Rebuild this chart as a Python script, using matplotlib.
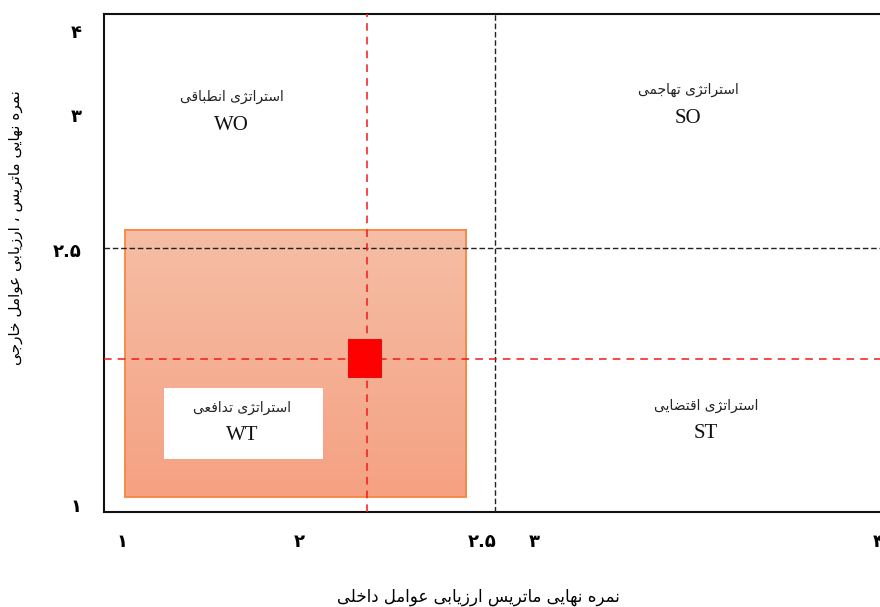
import matplotlib
matplotlib.use('Agg')
import matplotlib.pyplot as plt
from matplotlib.patches import Rectangle
from matplotlib.colors import LinearSegmentedColormap
import numpy as np

# letter -> (isolated, final, initial, medial); two-form letters do not join forward
FORMS = {
    'ا': (0xFE8D, 0xFE8E), 'ب': (0xFE8F, 0xFE90, 0xFE91, 0xFE92),
    'ت': (0xFE95, 0xFE96, 0xFE97, 0xFE98), 'ج': (0xFE9D, 0xFE9E, 0xFE9F, 0xFEA0),
    'ح': (0xFEA1, 0xFEA2, 0xFEA3, 0xFEA4), 'خ': (0xFEA5, 0xFEA6, 0xFEA7, 0xFEA8),
    'د': (0xFEA9, 0xFEAA), 'ذ': (0xFEAB, 0xFEAC), 'ر': (0xFEAD, 0xFEAE),
    'ز': (0xFEAF, 0xFEB0), 'ژ': (0xFB8A, 0xFB8B),
    'س': (0xFEB1, 0xFEB2, 0xFEB3, 0xFEB4), 'ش': (0xFEB5, 0xFEB6, 0xFEB7, 0xFEB8),
    'ص': (0xFEB9, 0xFEBA, 0xFEBB, 0xFEBC), 'ض': (0xFEBD, 0xFEBE, 0xFEBF, 0xFEC0),
    'ط': (0xFEC1, 0xFEC2, 0xFEC3, 0xFEC4), 'ظ': (0xFEC5, 0xFEC6, 0xFEC7, 0xFEC8),
    'ع': (0xFEC9, 0xFECA, 0xFECB, 0xFECC), 'غ': (0xFECD, 0xFECE, 0xFECF, 0xFED0),
    'ف': (0xFED1, 0xFED2, 0xFED3, 0xFED4), 'ق': (0xFED5, 0xFED6, 0xFED7, 0xFED8),
    'ک': (0xFB8E, 0xFB8F, 0xFB90, 0xFB91), 'گ': (0xFB92, 0xFB93, 0xFB94, 0xFB95),
    'ل': (0xFEDD, 0xFEDE, 0xFEDF, 0xFEE0), 'م': (0xFEE1, 0xFEE2, 0xFEE3, 0xFEE4),
    'ن': (0xFEE5, 0xFEE6, 0xFEE7, 0xFEE8), 'ه': (0xFEE9, 0xFEEA, 0xFEEB, 0xFEEC),
    'و': (0xFEED, 0xFEEE), 'ی': (0xFBFC, 0xFBFD, 0xFBFE, 0xFBFF),
    'پ': (0xFB56, 0xFB57, 0xFB58, 0xFB59), 'چ': (0xFB7A, 0xFB7B, 0xFB7C, 0xFB7D),
}


def fa(s):
    # shape persian letters and put them in visual (left to right) order
    out = []
    for i, c in enumerate(s):
        if c not in FORMS:
            out.append(c)
            continue
        prev = s[i - 1] if i > 0 else ''
        nxt = s[i + 1] if i + 1 < len(s) else ''
        join_prev = prev in FORMS and len(FORMS[prev]) == 4
        join_next = len(FORMS[c]) == 4 and nxt in FORMS
        f = FORMS[c]
        if join_prev and join_next:
            out.append(chr(f[3]))
        elif join_prev:
            out.append(chr(f[1]))
        elif join_next:
            out.append(chr(f[2]))
        else:
            out.append(chr(f[0]))
    return ''.join(out[::-1])


# data
x_thr, y_thr = 2.5, 2.59          # black threshold lines
point_x, point_y = 2.01, 1.92     # final IFE / EFE scores
range_x = [1.08, 2.39]            # shaded region
range_y = [1.09, 2.70]
box_x = [1.23, 1.84]              # white WT label box
box_y = [1.32, 1.75]

quad_names = ['استراتژی انطباقی', 'استراتژی تهاجمی', 'استراتژی تدافعی', 'استراتژی اقتضایی']
quad_codes = ['WO', 'SO', 'WT', 'ST']
quad_x = [1.49, 3.24, 1.53, 3.31]
quad_y = [3.50, 3.54, 1.63, 1.64]

xtick_pos = [1.07, 1.75, 2.45, 2.65, 3.97]
xtick_lab = ['۱', '۲', '۲.۵', '۳', '۴']
ytick_pos = [1.04, 2.58, 3.39, 3.90]
ytick_lab = ['۱', '۲.۵', '۳', '۴']

xlabel = 'نمره نهایی ماتریس ارزیابی عوامل داخلی'
ylabel = 'نمره نهایی ماتریس ، ارزیابی عوامل خارجی'

fig = plt.figure(figsize=(8.8, 6.07), dpi=100)
ax = fig.add_axes([104 / 880, 95 / 607, 782 / 880, 498 / 607])
ax.set_xlim(1, 4)
ax.set_ylim(1, 4)

# gradient fill of the shaded region
grad = np.linspace(0, 1, 256).reshape(-1, 1)
cmap = LinearSegmentedColormap.from_list('sal', ['#f6a182', '#f5bea6'])
ax.imshow(grad, cmap=cmap, origin='lower', aspect='auto',
          extent=[range_x[0], range_x[1], range_y[0], range_y[1]], zorder=1)
ax.add_patch(Rectangle((range_x[0], range_y[0]), range_x[1] - range_x[0],
                       range_y[1] - range_y[0], fill=False, ec='#f5873f', lw=1.3, zorder=2))
ax.add_patch(Rectangle((box_x[0], box_y[0]), box_x[1] - box_x[0],
                       box_y[1] - box_y[0], fc='white', ec='none', zorder=3))

ax.axvline(x_thr, color='#222222', ls=(0, (4, 2)), lw=1, zorder=4)
ax.axhline(y_thr, color='#222222', ls=(0, (4, 2)), lw=1, zorder=4)
ax.axvline(point_x, color='#f01a1a', ls=(0, (5, 4)), lw=1.1, zorder=4)
ax.axhline(point_y, color='#f01a1a', ls=(0, (5, 4)), lw=1.1, zorder=4)

w, h = 0.127, 0.229
ax.add_patch(Rectangle((point_x - w / 2 - 0.01, point_y - h / 2 + 0.01), w, h,
                       fc='#ff0000', ec='#e01010', lw=0.8, zorder=5))

for name, code, qx, qy in zip(quad_names, quad_codes, quad_x, quad_y):
    ax.text(qx, qy, fa(name), ha='center', va='center', fontsize=10,
            family='DejaVu Sans', color='#222222', zorder=6)
    ax.text(qx, qy - 0.17, code, ha='center', va='center', fontsize=15,
            family='Liberation Serif', color='#111111', zorder=6)

ax.set_xticks(xtick_pos)
ax.set_xticklabels(xtick_lab, family='DejaVu Sans', fontsize=13, fontweight='bold')
ax.set_yticks(ytick_pos)
ax.set_yticklabels(ytick_lab, family='DejaVu Sans', fontsize=13, fontweight='bold')
ax.tick_params(axis='y', length=0, pad=16)
ax.tick_params(axis='x', length=0, pad=15)

for sp in ax.spines.values():
    sp.set_linewidth(1.5)
    sp.set_color('#111111')

fig.text(478 / 880, 1 - 597 / 607, fa(xlabel), ha='center', va='center',
         fontsize=12, family='DejaVu Sans')
fig.text(16 / 880, 1 - 228 / 607, fa(ylabel), ha='center', va='center',
         fontsize=11, family='DejaVu Sans', rotation=90)

fig.savefig('out.png', dpi=100)
